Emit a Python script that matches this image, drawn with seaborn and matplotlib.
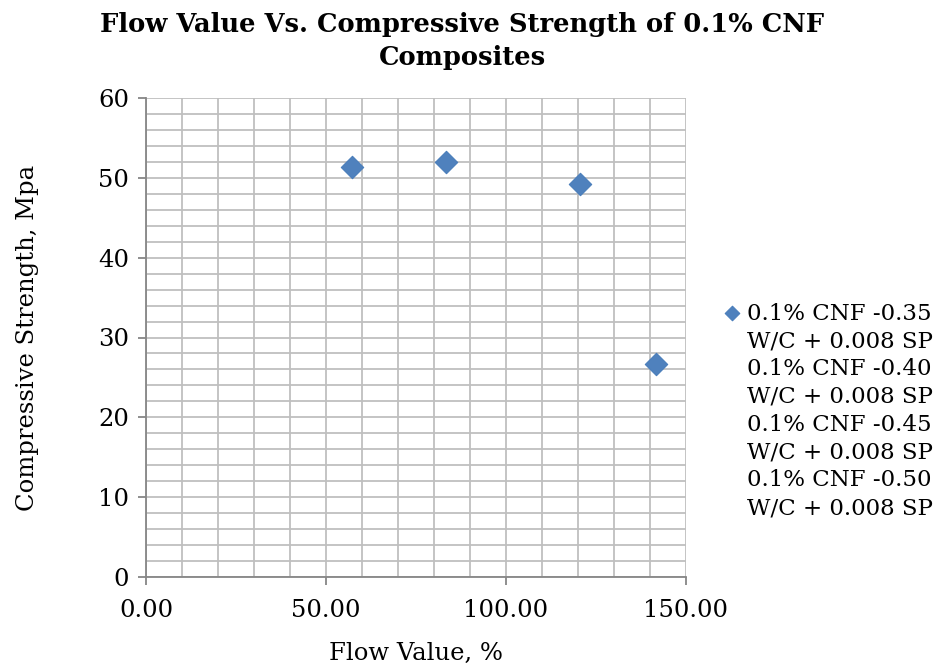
import matplotlib
matplotlib.use("Agg")
import matplotlib.pyplot as plt
from matplotlib.ticker import MultipleLocator, FormatStrFormatter
import seaborn as sns
import pandas as pd

# Flow value (%) and 28-day compressive strength (MPa) of 0.1% CNF mixes
flow_value = [57.2, 83.3, 120.6, 141.7]
compressive_strength = [51.4, 52.0, 49.2, 26.7]
series_label = ("0.1% CNF -0.35\nW/C + 0.008 SP\n0.1% CNF -0.40\nW/C + 0.008 SP\n"
                "0.1% CNF -0.45\nW/C + 0.008 SP\n0.1% CNF -0.50\nW/C + 0.008 SP")

df = pd.DataFrame({"flow": flow_value, "strength": compressive_strength})

sns.set_theme(style="white")
plt.rcParams["font.family"] = ["DejaVu Serif"]
plt.rcParams["text.color"] = "black"

fig = plt.figure(figsize=(9.43, 6.67), dpi=100)
ax = fig.add_axes([146 / 943, 1 - 577 / 667, 540 / 943, 479 / 667])

sns.scatterplot(data=df, x="flow", y="strength", ax=ax, marker="D", s=130,
                color="#4F81BD", edgecolor="#4A7EBB", linewidth=0.8,
                label=series_label, zorder=3)

ax.set_xlim(0, 150)
ax.set_ylim(0, 60)
ax.xaxis.set_major_locator(MultipleLocator(50))
ax.xaxis.set_minor_locator(MultipleLocator(10))
ax.yaxis.set_major_locator(MultipleLocator(10))
ax.yaxis.set_minor_locator(MultipleLocator(2))
ax.xaxis.set_major_formatter(FormatStrFormatter("%.2f"))

grid_c = "#BFBFBF"
ax.grid(True, which="both", color=grid_c, linewidth=1.3)
ax.set_axisbelow(True)
for side in ["top", "right"]:
    ax.spines[side].set_visible(False)
for side in ["left", "bottom"]:
    ax.spines[side].set_color("#868686")
    ax.spines[side].set_linewidth(1.3)
ax.tick_params(which="major", direction="out", length=6, width=1.3, color="#868686",
               labelsize=17.5, labelcolor="black", bottom=True, left=True)
ax.tick_params(axis="x", which="major", pad=10)
ax.tick_params(axis="y", which="major", pad=6)
ax.tick_params(which="minor", length=0)

ax.set_xlabel("Flow Value, %", fontsize=17.5, labelpad=14, color="black")
ax.set_ylabel("Compressive Strength, Mpa", fontsize=17.5, color="black")
ax.yaxis.set_label_coords(-0.198, 0.5)
fig.suptitle("Flow Value Vs. Compressive Strength of 0.1% CNF\nComposites",
             fontsize=18.5, fontweight="bold", x=0.49, y=0.982, linespacing=1.4)

leg = ax.legend(loc="upper left", bbox_to_anchor=(1.05, 0.592), frameon=False,
                fontsize=16.5, handletextpad=0.2, markerscale=0.65,
                borderaxespad=0, handlelength=0.9)
for t in leg.get_texts():
    t.set_linespacing(1.34)
# put the marker beside the first line of the wrapped label
for col in leg._legend_handle_box.get_children():
    for item in col.get_children():
        item.align = "top"

fig.savefig("out.png", dpi=100)
